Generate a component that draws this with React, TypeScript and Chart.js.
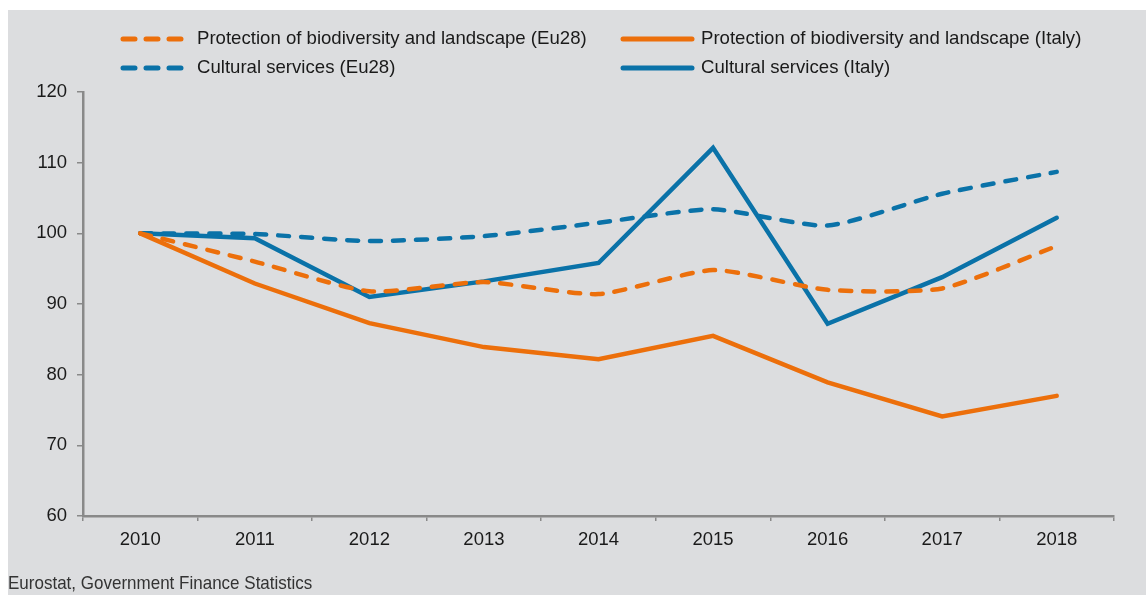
import React, { useEffect, useRef } from "react";
import { Chart, registerables } from "chart.js";

Chart.register(...registerables);

const years = ["2010", "2011", "2012", "2013", "2014", "2015", "2016", "2017", "2018"];
const protectionEu28 = [100, 96.0, 91.8, 93.1, 91.4, 94.8, 92.0, 92.2, 98.2];
const protectionItaly = [100, 92.9, 87.3, 83.9, 82.2, 85.5, 78.9, 74.1, 77.0];
const culturalEu28 = [100, 99.9, 98.9, 99.6, 101.5, 103.4, 101.1, 105.6, 108.7];
const culturalItaly = [100, 99.3, 91.0, 93.2, 95.8, 112.1, 87.2, 93.8, 102.2];
const sourceNote = "Eurostat, Government Finance Statistics";

const ORANGE = "#EC6F0B";
const BLUE = "#0A72A8";
const BG = "#DCDDDF";
const AXIS = "#898989";
const FONT = "'Liberation Sans', Arial, sans-serif";

const legendItems = [
  { label: "Protection of biodiversity and landscape (Eu28)", color: ORANGE, dashed: true, col: 0, row: 0 },
  { label: "Protection of biodiversity and landscape (Italy)", color: ORANGE, dashed: false, col: 1, row: 0 },
  { label: "Cultural services (Eu28)", color: BLUE, dashed: true, col: 0, row: 1 },
  { label: "Cultural services (Italy)", color: BLUE, dashed: false, col: 1, row: 1 },
];

const legendPlugin = {
  id: "customLegend",
  afterDraw(chart: any) {
    const ctx = chart.ctx;
    ctx.save();
    const colX = [112, 612];
    const rowY = [29, 58];
    ctx.font = `18.6px ${FONT}`;
    ctx.textBaseline = "middle";
    ctx.textAlign = "left";
    for (const it of legendItems) {
      const x0 = colX[it.col];
      const y = rowY[it.row];
      ctx.strokeStyle = it.color;
      ctx.lineWidth = 5;
      ctx.lineCap = "round";
      if (it.dashed) {
        ctx.setLineDash([12, 11]);
        ctx.beginPath();
        ctx.moveTo(x0 + 3, y);
        ctx.lineTo(x0 + 63, y);
        ctx.stroke();
        ctx.setLineDash([]);
      } else {
        ctx.beginPath();
        ctx.moveTo(x0 + 3, y);
        ctx.lineTo(x0 + 72, y);
        ctx.stroke();
      }
      ctx.fillStyle = "#1a1a1a";
      ctx.fillText(it.label, it.dashed ? x0 + 77 : x0 + 81, y);
    }
    // source note, condensed
    ctx.font = `19px ${FONT}`;
    ctx.fillStyle = "#333333";
    ctx.textBaseline = "middle";
    ctx.translate(0, 574);
    ctx.scale(0.895, 1);
    ctx.fillText(sourceNote, 0, 0);
    ctx.restore();
  },
};

export default function App() {
  const ref = useRef<HTMLCanvasElement | null>(null);
  useEffect(() => {
    document.body.style.overflow = "hidden";
    if (!ref.current) return;
    const mk = (label: string, data: number[], color: string, dashed: boolean) => ({
      label,
      data,
      borderColor: color,
      backgroundColor: color,
      borderWidth: 4.5,
      borderDash: dashed ? [11, 12] : [],
      borderCapStyle: "round" as const,
      borderJoinStyle: "miter" as const,
      pointRadius: 0,
      pointHoverRadius: 0,
      tension: dashed ? 0.2 : 0,
      fill: false,
    });
    const chart = new Chart(ref.current, {
      type: "line",
      data: {
        labels: years,
        datasets: [
          mk("Protection of biodiversity and landscape (Eu28)", protectionEu28, ORANGE, true),
          mk("Protection of biodiversity and landscape (Italy)", protectionItaly, ORANGE, false),
          mk("Cultural services (Eu28)", culturalEu28, BLUE, true),
          mk("Cultural services (Italy)", culturalItaly, BLUE, false),
        ],
      },
      options: {
        animation: false,
        responsive: false,
        maintainAspectRatio: false,
        layout: { padding: { top: 82, right: 32, bottom: 34, left: 0 } },
        plugins: {
          legend: { display: false },
          tooltip: { enabled: false },
          title: { display: false },
        },
        scales: {
          x: {
            offset: true,
            grid: {
              display: true,
              offset: true,
              drawOnChartArea: false,
              drawTicks: true,
              tickLength: 5,
              color: AXIS,
              lineWidth: 1.5,
            },
            border: { display: true, color: AXIS, width: 2.5 },
            ticks: { color: "#1a1a1a", font: { family: FONT, size: 18.5 }, padding: 8, maxRotation: 0 },
            afterFit: (s: any) => {
              s.height = 45;
            },
          },
          y: {
            min: 60,
            max: 120,
            ticks: { stepSize: 10, color: "#1a1a1a", font: { family: FONT, size: 18.5 }, padding: 10 },
            grid: {
              display: true,
              drawOnChartArea: false,
              drawTicks: true,
              tickLength: 6,
              color: AXIS,
              lineWidth: 1.5,
            },
            border: { display: true, color: AXIS, width: 2.5 },
            afterFit: (s: any) => {
              s.width = 75;
            },
          },
        },
      },
      plugins: [legendPlugin],
    });
    return () => chart.destroy();
  }, []);
  return (
    <div
      style={{
        position: "fixed",
        left: 8,
        top: 10,
        right: 0,
        bottom: 0,
        background: BG,
        overflow: "hidden",
      }}
    >
      <canvas ref={ref} width={1138} height={585} style={{ display: "block" }} />
    </div>
  );
}
